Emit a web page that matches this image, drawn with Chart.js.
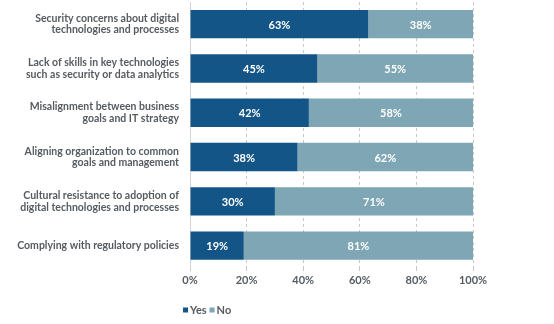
<!DOCTYPE html>
<html>
<head>
<meta charset="utf-8">
<script src="https://cdn.jsdelivr.net/npm/chart.js@4/dist/chart.umd.min.js"></script>
<style>
  html, body { margin: 0; padding: 0; background: #fff; }
  #wrap { width: 554px; height: 324px; position: relative; }
</style>
</head>
<body>
<div id="wrap"><canvas id="chart"></canvas></div>
<script>
// Datos
const categories = [
    ['Security concerns about digital', 'technologies and processes'],
    ['Lack of skills in key technologies', 'such as security or data analytics'],
    ['Misalignment between business', 'goals and IT strategy'],
    ['Aligning organization to common', 'goals and management'],
    ['Cultural resistance to adoption of', 'digital technologies and processes'],
    'Complying with regulatory policies'
];
const yesValues = [63, 45, 42, 38, 30, 19];
const noValues = [38, 55, 58, 62, 71, 81];
const xTicks = [0, 20, 40, 60, 80, 100];

const FONT = "Lato, sans-serif";
const TEXT = '#555b60';

// Etiquetas blancas dentro de cada segmento
const barLabels = {
    id: 'barLabels',
    afterDatasetsDraw(chart) {
        const ctx = chart.ctx;
        const area = chart.chartArea;
        ctx.save();
        ctx.fillStyle = '#fff';
        ctx.font = "bold 11px " + FONT;
        ctx.textAlign = 'center';
        ctx.textBaseline = 'middle';
        chart.data.datasets.forEach((ds, i) => {
            chart.getDatasetMeta(i).data.forEach((bar, j) => {
                const left = Math.max(Math.min(bar.x, bar.base), area.left);
                const right = Math.min(Math.max(bar.x, bar.base), area.right);
                ctx.fillText(ds.data[j] + '%', (left + right) / 2, bar.y + 1);
            });
        });
        ctx.restore();
    }
};

// Leyenda compacta bajo el eje (cuadrito + texto, muy juntos)
const compactLegend = {
    id: 'compactLegend',
    afterDraw(chart) {
        const ctx = chart.ctx;
        let x = chart.chartArea.left - 7;
        const y = 310;
        ctx.save();
        ctx.font = "bold 11px " + FONT;
        ctx.textBaseline = 'middle';
        ctx.textAlign = 'left';
        chart.data.datasets.forEach(ds => {
            ctx.fillStyle = ds.backgroundColor;
            ctx.fillRect(x, y - 2.5, 5, 5);
            x += 7;
            ctx.fillStyle = TEXT;
            ctx.fillText(ds.label, x, y);
            x += ctx.measureText(ds.label).width + 3;
        });
        ctx.restore();
    }
};

new Chart(document.getElementById('chart'), {
    type: 'bar',
    data: {
        labels: categories,
        datasets: [
            { label: 'Yes', data: yesValues, backgroundColor: '#135586' },
            { label: 'No', data: noValues, backgroundColor: '#7ea6b4' }
        ]
    },
    options: {
        indexAxis: 'y',
        responsive: true,
        maintainAspectRatio: false,
        animation: false,
        layout: { padding: { top: 2, right: 81, bottom: 35, left: 0 } },
        datasets: { bar: { categoryPercentage: 1, barPercentage: 0.64 } },
        scales: {
            x: {
                stacked: true,
                min: 0,
                max: 100,
                afterBuildTicks(scale) { scale.ticks = xTicks.map(v => ({ value: v })); },
                border: { display: false, dash: [3, 3] },
                grid: { color: '#c8c8c8', tickLength: 4, lineWidth: 1, tickBorderDash: [3, 3] },
                ticks: {
                    color: TEXT,
                    font: { family: FONT, size: 11, weight: 'bold' },
                    padding: 2,
                    callback: v => v + '%'
                }
            },
            y: {
                stacked: true,
                afterFit(scale) {
                    scale.width = 190;
                    scale.paddingTop = 0;
                    scale.paddingBottom = 0;
                },
                border: { display: true, color: '#d4d4d4' },
                grid: { display: false, drawTicks: false },
                ticks: {
                    color: TEXT,
                    font: { family: FONT, size: 10.5, weight: 'bold', lineHeight: 1.1 },
                    padding: 11
                }
            }
        },
        plugins: {
            legend: { display: false },
            tooltip: { enabled: false }
        }
    },
    plugins: [barLabels, compactLegend]
});
</script>
</body>
</html>
